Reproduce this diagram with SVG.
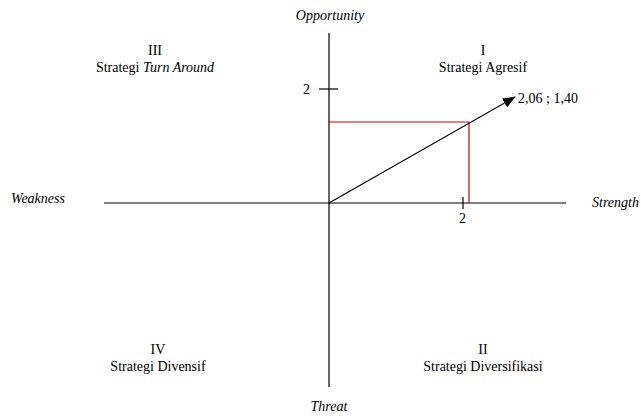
<svg xmlns="http://www.w3.org/2000/svg" width="641" height="419" viewBox="0 0 641 419">
<style>
text{font-family:"Liberation Serif","Times New Roman",serif;font-size:14px;fill:#000}
.it{font-style:italic}
.c{text-anchor:middle}
.ax{stroke:#000;stroke-width:1.2;fill:none}
.red{stroke:#d00000;stroke-width:1.2;fill:none}
</style>
<defs>
<marker id="ah" markerWidth="13" markerHeight="10" refX="12" refY="5" orient="auto" markerUnits="userSpaceOnUse">
<path d="M0,0 L13,5 L0,10 z" fill="#000"/>
</marker>
</defs>
<g id="connectors">
<line class="ax" x1="329" y1="33" x2="329" y2="387"/>
<line class="ax" x1="104" y1="203" x2="566" y2="203"/>
<line class="ax" x1="319" y1="89" x2="338" y2="89"/>
<line class="ax" x1="463" y1="197" x2="463" y2="209"/>
<polyline class="red" points="329,122 469,122 469,203"/>
<line class="ax" x1="329" y1="203" x2="515" y2="97" marker-end="url(#ah)"/>
</g>
<g id="axis-labels">
<text class="it c" x="330" y="20">Opportunity</text>
<text class="it c" x="329" y="411">Threat</text>
<text class="it" x="11" y="203">Weakness</text>
<text class="it" x="592" y="207">Strength</text>
<text x="303" y="94">2</text>
<text x="459" y="223">2</text>
<text x="518" y="103">2,06 ; 1,40</text>
</g>
<g id="q3">
<text class="c" x="155" y="55">III</text>
<text class="c" x="155" y="72">Strategi <tspan class="it">Turn Around</tspan></text>
</g>
<g id="q1">
<text class="c" x="483" y="55">I</text>
<text class="c" x="483" y="72">Strategi Agresif</text>
</g>
<g id="q4">
<text class="c" x="158" y="354">IV</text>
<text class="c" x="158" y="371">Strategi Divensif</text>
</g>
<g id="q2">
<text class="c" x="483" y="354">II</text>
<text class="c" x="483" y="371">Strategi Diversifikasi</text>
</g>
</svg>
